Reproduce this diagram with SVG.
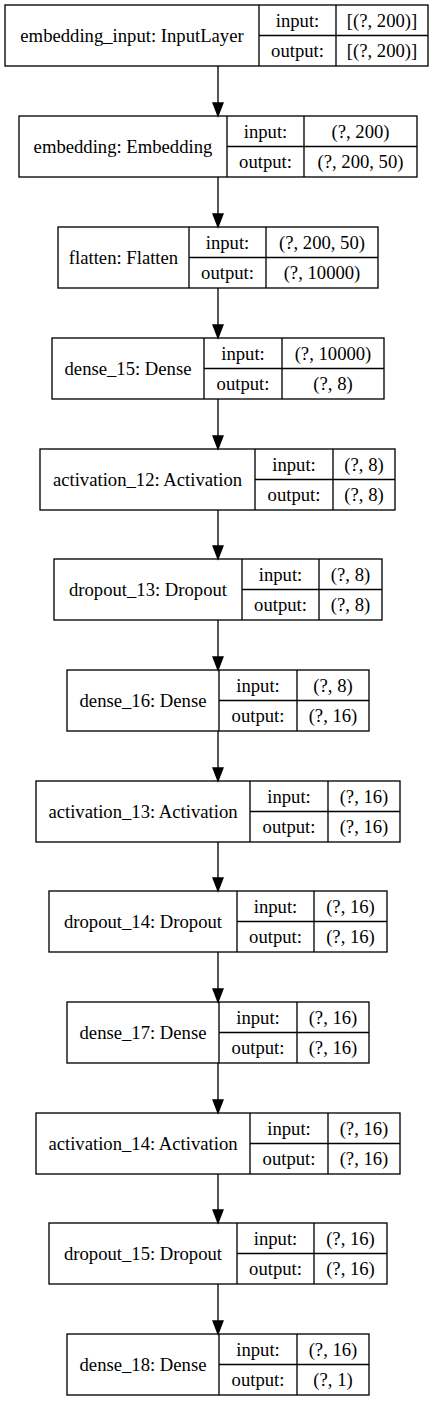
<svg xmlns="http://www.w3.org/2000/svg" width="436" height="1401" viewBox="0 0 436 1401">
<style>
.bg{fill:#ffffff}
.box{fill:none;stroke:#000;stroke-width:1.33}
.ln{stroke:#000;stroke-width:1.33;fill:none}
.t{font-family:"Liberation Serif","Times New Roman",serif;font-size:18.67px;fill:#000;text-anchor:middle}
.edge line{stroke:#000;stroke-width:1.33}
.edge polygon{fill:#000;stroke:#000;stroke-width:1.33}
</style>
<rect class="bg" x="0" y="0" width="436" height="1401"/>
<g id="edges" class="edge">
<line x1="218" y1="66" x2="218" y2="103"/><polygon points="213,103 223,103 218,116"/>
<line x1="218" y1="177" x2="218" y2="214"/><polygon points="213,214 223,214 218,227"/>
<line x1="218" y1="288" x2="218" y2="325"/><polygon points="213,325 223,325 218,338"/>
<line x1="218" y1="399" x2="218" y2="436"/><polygon points="213,436 223,436 218,449"/>
<line x1="218" y1="510" x2="218" y2="546"/><polygon points="213,546 223,546 218,559"/>
<line x1="218" y1="620" x2="218" y2="657"/><polygon points="213,657 223,657 218,670"/>
<line x1="218" y1="731" x2="218" y2="768"/><polygon points="213,768 223,768 218,781"/>
<line x1="218" y1="842" x2="218" y2="878"/><polygon points="213,878 223,878 218,891"/>
<line x1="218" y1="952" x2="218" y2="989"/><polygon points="213,989 223,989 218,1002"/>
<line x1="218" y1="1063" x2="218" y2="1100"/><polygon points="213,1100 223,1100 218,1113"/>
<line x1="218" y1="1174" x2="218" y2="1210"/><polygon points="213,1210 223,1210 218,1223"/>
<line x1="218" y1="1284" x2="218" y2="1321"/><polygon points="213,1321 223,1321 218,1334"/>
</g>
<g id="n1">
<rect class="box" x="5" y="5" width="423" height="61"/>
<line class="ln" x1="259" y1="5" x2="259" y2="66"/><line class="ln" x1="336" y1="5" x2="336" y2="66"/><line class="ln" x1="259" y1="35.5" x2="428" y2="35.5"/>
<text class="t" x="132" y="42">embedding_input: InputLayer</text>
<text class="t" x="297.5" y="26.5">input:</text><text class="t" x="297.5" y="57">output:</text>
<text class="t" x="382" y="26.5">[(?, 200)]</text><text class="t" x="382" y="57">[(?, 200)]</text>
</g>
<g id="n2">
<rect class="box" x="19" y="116" width="398" height="61"/>
<line class="ln" x1="227" y1="116" x2="227" y2="177"/><line class="ln" x1="304" y1="116" x2="304" y2="177"/><line class="ln" x1="227" y1="146.5" x2="417" y2="146.5"/>
<text class="t" x="123" y="153">embedding: Embedding</text>
<text class="t" x="265.5" y="137.5">input:</text><text class="t" x="265.5" y="168">output:</text>
<text class="t" x="360.5" y="137.5">(?, 200)</text><text class="t" x="360.5" y="168">(?, 200, 50)</text>
</g>
<g id="n3">
<rect class="box" x="58" y="227" width="320" height="61"/>
<line class="ln" x1="189" y1="227" x2="189" y2="288"/><line class="ln" x1="266" y1="227" x2="266" y2="288"/><line class="ln" x1="189" y1="257.5" x2="378" y2="257.5"/>
<text class="t" x="123.5" y="264">flatten: Flatten</text>
<text class="t" x="227.5" y="248.5">input:</text><text class="t" x="227.5" y="279">output:</text>
<text class="t" x="322" y="248.5">(?, 200, 50)</text><text class="t" x="322" y="279">(?, 10000)</text>
</g>
<g id="n4">
<rect class="box" x="52" y="338" width="332" height="61"/>
<line class="ln" x1="204" y1="338" x2="204" y2="399"/><line class="ln" x1="282" y1="338" x2="282" y2="399"/><line class="ln" x1="204" y1="368.5" x2="384" y2="368.5"/>
<text class="t" x="128" y="375">dense_15: Dense</text>
<text class="t" x="243" y="359.5">input:</text><text class="t" x="243" y="390">output:</text>
<text class="t" x="333" y="359.5">(?, 10000)</text><text class="t" x="333" y="390">(?, 8)</text>
</g>
<g id="n5">
<rect class="box" x="40" y="449" width="355" height="61"/>
<line class="ln" x1="255" y1="449" x2="255" y2="510"/><line class="ln" x1="333" y1="449" x2="333" y2="510"/><line class="ln" x1="255" y1="479.5" x2="395" y2="479.5"/>
<text class="t" x="147.5" y="486">activation_12: Activation</text>
<text class="t" x="294" y="470.5">input:</text><text class="t" x="294" y="501">output:</text>
<text class="t" x="364" y="470.5">(?, 8)</text><text class="t" x="364" y="501">(?, 8)</text>
</g>
<g id="n6">
<rect class="box" x="54" y="559" width="328" height="61"/>
<line class="ln" x1="242" y1="559" x2="242" y2="620"/><line class="ln" x1="319" y1="559" x2="319" y2="620"/><line class="ln" x1="242" y1="589.5" x2="382" y2="589.5"/>
<text class="t" x="148" y="596">dropout_13: Dropout</text>
<text class="t" x="280.5" y="580.5">input:</text><text class="t" x="280.5" y="611">output:</text>
<text class="t" x="350.5" y="580.5">(?, 8)</text><text class="t" x="350.5" y="611">(?, 8)</text>
</g>
<g id="n7">
<rect class="box" x="67" y="670" width="302" height="61"/>
<line class="ln" x1="219" y1="670" x2="219" y2="731"/><line class="ln" x1="297" y1="670" x2="297" y2="731"/><line class="ln" x1="219" y1="700.5" x2="369" y2="700.5"/>
<text class="t" x="143" y="707">dense_16: Dense</text>
<text class="t" x="258" y="691.5">input:</text><text class="t" x="258" y="722">output:</text>
<text class="t" x="333" y="691.5">(?, 8)</text><text class="t" x="333" y="722">(?, 16)</text>
</g>
<g id="n8">
<rect class="box" x="36" y="781" width="364" height="61"/>
<line class="ln" x1="250" y1="781" x2="250" y2="842"/><line class="ln" x1="328" y1="781" x2="328" y2="842"/><line class="ln" x1="250" y1="811.5" x2="400" y2="811.5"/>
<text class="t" x="143" y="818">activation_13: Activation</text>
<text class="t" x="289" y="802.5">input:</text><text class="t" x="289" y="833">output:</text>
<text class="t" x="364" y="802.5">(?, 16)</text><text class="t" x="364" y="833">(?, 16)</text>
</g>
<g id="n9">
<rect class="box" x="49" y="891" width="338" height="61"/>
<line class="ln" x1="237" y1="891" x2="237" y2="952"/><line class="ln" x1="314" y1="891" x2="314" y2="952"/><line class="ln" x1="237" y1="921.5" x2="387" y2="921.5"/>
<text class="t" x="143" y="928">dropout_14: Dropout</text>
<text class="t" x="275.5" y="912.5">input:</text><text class="t" x="275.5" y="943">output:</text>
<text class="t" x="350.5" y="912.5">(?, 16)</text><text class="t" x="350.5" y="943">(?, 16)</text>
</g>
<g id="n10">
<rect class="box" x="67" y="1002" width="302" height="61"/>
<line class="ln" x1="219" y1="1002" x2="219" y2="1063"/><line class="ln" x1="297" y1="1002" x2="297" y2="1063"/><line class="ln" x1="219" y1="1032.5" x2="369" y2="1032.5"/>
<text class="t" x="143" y="1039">dense_17: Dense</text>
<text class="t" x="258" y="1023.5">input:</text><text class="t" x="258" y="1054">output:</text>
<text class="t" x="333" y="1023.5">(?, 16)</text><text class="t" x="333" y="1054">(?, 16)</text>
</g>
<g id="n11">
<rect class="box" x="36" y="1113" width="364" height="61"/>
<line class="ln" x1="250" y1="1113" x2="250" y2="1174"/><line class="ln" x1="328" y1="1113" x2="328" y2="1174"/><line class="ln" x1="250" y1="1143.5" x2="400" y2="1143.5"/>
<text class="t" x="143" y="1150">activation_14: Activation</text>
<text class="t" x="289" y="1134.5">input:</text><text class="t" x="289" y="1165">output:</text>
<text class="t" x="364" y="1134.5">(?, 16)</text><text class="t" x="364" y="1165">(?, 16)</text>
</g>
<g id="n12">
<rect class="box" x="49" y="1223" width="338" height="61"/>
<line class="ln" x1="237" y1="1223" x2="237" y2="1284"/><line class="ln" x1="314" y1="1223" x2="314" y2="1284"/><line class="ln" x1="237" y1="1253.5" x2="387" y2="1253.5"/>
<text class="t" x="143" y="1260">dropout_15: Dropout</text>
<text class="t" x="275.5" y="1244.5">input:</text><text class="t" x="275.5" y="1275">output:</text>
<text class="t" x="350.5" y="1244.5">(?, 16)</text><text class="t" x="350.5" y="1275">(?, 16)</text>
</g>
<g id="n13">
<rect class="box" x="67" y="1334" width="302" height="61"/>
<line class="ln" x1="219" y1="1334" x2="219" y2="1395"/><line class="ln" x1="297" y1="1334" x2="297" y2="1395"/><line class="ln" x1="219" y1="1364.5" x2="369" y2="1364.5"/>
<text class="t" x="143" y="1371">dense_18: Dense</text>
<text class="t" x="258" y="1355.5">input:</text><text class="t" x="258" y="1386">output:</text>
<text class="t" x="333" y="1355.5">(?, 16)</text><text class="t" x="333" y="1386">(?, 1)</text>
</g>
</svg>
